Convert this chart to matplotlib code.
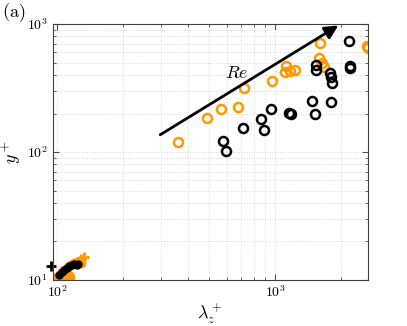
import matplotlib
matplotlib.use('Agg')
import matplotlib.pyplot as plt
import matplotlib.ticker as mticker
import numpy as np

plt.rcParams['mathtext.fontset'] = 'cm'
plt.rcParams['font.family'] = 'serif'
plt.rcParams['font.serif'] = ['DejaVu Serif']

orange = '#FF9900'

# open circles, orange
lam_or = [360, 486, 565, 673, 721, 966, 1123, 1111, 1172, 1235, 1609, 1592, 1638, 1683, 2640, 2655]
y_or = [120, 185, 216, 223, 314, 357, 470, 424, 429, 437, 707, 540, 493, 464, 680, 650]

# open circles, black
lam_bk = [579, 596, 711, 866, 891, 959, 1163, 1180, 1483, 1521, 1537, 1537, 1788, 1801, 1820, 1807, 2192, 2208, 2212]
y_bk = [122, 102, 153, 180, 150, 216, 201, 197, 250, 197, 478, 435, 412, 383, 348, 246, 733, 472, 456]

# small cluster near the wall
lam_or_s = [100, 102, 105, 108, 111, 114, 117, 120, 123, 126, 129]
y_or_s = [10.5, 11.0, 11.5, 12.0, 12.5, 12.9, 13.3, 13.6, 13.8, 14.0, 13.6]
lam_or_p = [129, 133]
y_or_p = [14.6, 15.2]
lam_or_big = [111]
y_or_big = [10.5]
lam_bk_s = [102, 105, 108, 111, 114, 117, 120, 123, 125]
y_bk_s = [11.0, 11.5, 12.0, 12.4, 12.8, 13.1, 13.3, 13.2, 13.4]
lam_bk_p = [94]
y_bk_p = [12.8]

fig = plt.figure(figsize=(4.07, 3.26), dpi=100)
ax = fig.add_axes([0.1295, 0.1411, 0.774, 0.785])

ax.plot(lam_or_s, y_or_s, 'o', color=orange, ms=6, mec=orange)
ax.plot(lam_or_p, y_or_p, '+', color=orange, ms=7, mew=2.2)
ax.plot(lam_or_big, y_or_big, 'o', color=orange, ms=10, mec=orange)
ax.plot(lam_bk_s, y_bk_s, 'o', color='k', ms=5)
ax.plot(lam_bk_p, y_bk_p, '+', color='k', ms=7, mew=2, clip_on=False)

ax.plot(lam_or, y_or, 'o', mfc='none', mec=orange, ms=6.5, mew=1.8)
ax.plot(lam_bk, y_bk, 'o', mfc='none', mec='k', ms=6.5, mew=1.8)

ax.annotate('', xy=(2000, 1000), xytext=(290, 133),
            arrowprops=dict(arrowstyle='-|>', color='k', lw=2, mutation_scale=20))
ax.text(667, 414, r'$Re$', fontsize=13, ha='center', va='center')

ax.set_xscale('log')
ax.set_yscale('log')
ax.set_xlim(95.5, 2660)
ax.set_ylim(10, 1000)

fmt = mticker.FuncFormatter(lambda v, p: r'$10^{%d}$' % round(np.log10(v)))
ax.xaxis.set_major_formatter(fmt)
ax.yaxis.set_major_formatter(fmt)
ax.xaxis.set_minor_formatter(mticker.NullFormatter())
ax.yaxis.set_minor_formatter(mticker.NullFormatter())

ax.tick_params(which='both', direction='in', top=True, right=True, labelsize=10, color='0.3')
ax.tick_params(which='major', length=4)
ax.tick_params(which='minor', length=2.5)
ax.grid(True, which='both', linestyle=':', color='0.85', linewidth=0.7)
for s in ax.spines.values():
    s.set_color('0.25')
    s.set_linewidth(0.8)

ax.set_xlabel(r'$\lambda_z^+$', fontsize=13)
ax.set_ylabel(r'$y^+$', fontsize=13)
ax.xaxis.set_label_coords(0.5, -0.09)
ax.yaxis.set_label_coords(-0.095, 0.5)
fig.text(0.005, 0.96, r'$\mathrm{(a)}$', fontsize=13, va='center')

fig.savefig('out.png', dpi=100)
